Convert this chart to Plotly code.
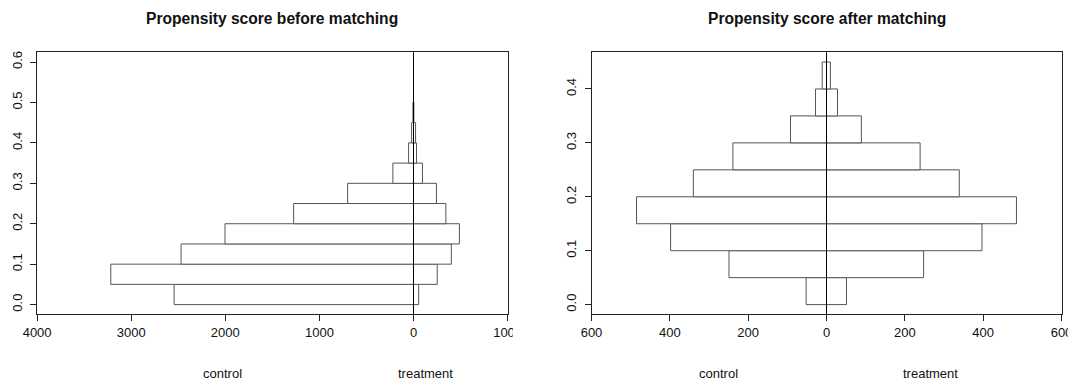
import plotly.graph_objects as go

# ---- data (histogram counts per propensity-score bin) ----
bin_lower_before = [0.00, 0.05, 0.10, 0.15, 0.20, 0.25, 0.30, 0.35, 0.40, 0.45, 0.50, 0.55]
control_before = [2544, 3217, 2470, 2003, 1274, 700, 219, 52, 20, 6, 0, 0]
treatment_before = [55, 252, 402, 488, 344, 244, 95, 32, 22, 4, 0, 0]

bin_lower_after = [0.00, 0.05, 0.10, 0.15, 0.20, 0.25, 0.30, 0.35, 0.40]
control_after = [52, 249, 398, 485, 340, 239, 92, 28, 11]
treatment_after = [51, 248, 397, 485, 339, 239, 89, 28, 10]

bin_width = 0.05
titles = ["Propensity score before matching", "Propensity score after matching"]
side_labels = ["control", "treatment"]

x_ticks_before = [-4000, -3000, -2000, -1000, 0, 1000]
x_ticks_after = [-600, -400, -200, 0, 200, 400, 600]
y_ticks_before = [0.0, 0.1, 0.2, 0.3, 0.4, 0.5, 0.6]
y_ticks_after = [0.0, 0.1, 0.2, 0.3, 0.4]

W, H = 1074, 386
FONT = "Liberation Sans, Arial, Helvetica, sans-serif"
BAR_LINE = "#555555"


def px_x(p):
    return p / W


def px_y(p):
    return (H - p) / H


fig = go.Figure()


def add_side(lower, counts, sign, xa, ya):
    # empty bins are left out so that they draw nothing
    ys = [b + bin_width / 2 for b, c in zip(lower, counts) if c > 0]
    xs = [sign * c for c in counts if c > 0]
    fig.add_trace(go.Bar(
        y=ys, x=xs, base=0, orientation="h", width=bin_width,
        marker=dict(color="white", line=dict(color=BAR_LINE, width=1)),
        xaxis=xa, yaxis=ya, hoverinfo="skip", showlegend=False))


add_side(bin_lower_before, control_before, -1, "x", "y")
add_side(bin_lower_before, treatment_before, 1, "x", "y")
add_side(bin_lower_after, control_after, -1, "x2", "y2")
add_side(bin_lower_after, treatment_after, 1, "x2", "y2")

ydom = [px_y(314.3), px_y(52.3)]
axis_common = dict(showline=True, linecolor="#222222", linewidth=1, mirror=True,
                   ticks="outside", ticklen=6, tickcolor="#222222", showgrid=False,
                   zeroline=False, automargin=False,
                   tickfont=dict(family=FONT, size=13, color="#111111"))

fig.update_layout(
    width=W, height=H, margin=dict(l=0, r=0, t=0, b=0, autoexpand=False),
    paper_bgcolor="white", plot_bgcolor="white", barmode="overlay",
    font=dict(family=FONT, size=13, color="#111111"),
    xaxis=dict(domain=[px_x(37.1), px_x(507.6)], range=[-4000, 1000],
               tickvals=x_ticks_before, ticktext=[str(abs(v)) for v in x_ticks_before],
               anchor="y", **axis_common),
    yaxis=dict(domain=ydom, range=[-0.024, 0.624], tickvals=y_ticks_before,
               ticktext=[f"{v:.1f}" for v in y_ticks_before], tickangle=-90,
               ticklabelstandoff=3, anchor="x", **axis_common),
    xaxis2=dict(domain=[px_x(591.5), px_x(1061.5)], range=[-600, 600],
                tickvals=x_ticks_after, ticktext=[str(abs(v)) for v in x_ticks_after],
                anchor="y2", **axis_common),
    yaxis2=dict(domain=ydom, range=[-0.018, 0.468], tickvals=y_ticks_after,
                ticktext=[f"{v:.1f}" for v in y_ticks_after], tickangle=-90,
                ticklabelstandoff=3, anchor="x2", **axis_common),
)

# centre lines at 0
for xr, yr in (("x", "y domain"), ("x2", "y2 domain")):
    fig.add_shape(type="line", xref=xr, yref=yr, x0=0, x1=0, y0=0, y1=1,
                  line=dict(color="black", width=1), layer="above")

# titles
for cx, t in ((272.4, titles[0]), (826.5, titles[1])):
    fig.add_annotation(x=px_x(cx), y=px_y(19), xref="paper", yref="paper",
                       text=f"<b>{t}</b>", showarrow=False, xanchor="center", yanchor="middle",
                       font=dict(family=FONT, size=15.6, color="#111111"))

# side labels under each panel
for cx, t in ((222, side_labels[0]), (425, side_labels[1]),
              (718, side_labels[0]), (930, side_labels[1])):
    fig.add_annotation(x=px_x(cx), y=px_y(373), xref="paper", yref="paper",
                       text=t, showarrow=False, xanchor="center", yanchor="middle",
                       font=dict(family=FONT, size=13, color="#111111"))

# emulate the cropped edges of the original two images
fig.add_shape(type="rect", xref="paper", yref="paper", x0=px_x(513), x1=px_x(548),
              y0=px_y(350), y1=px_y(318), fillcolor="white", line=dict(width=0), layer="above")
fig.add_shape(type="rect", xref="paper", yref="paper", x0=px_x(1068), x1=1,
              y0=px_y(350), y1=px_y(318), fillcolor="white", line=dict(width=0), layer="above")

fig.write_html("out.html", config={"displayModeBar": False},
               post_script="document.body.style.margin='0';document.body.style.overflow='hidden';")
